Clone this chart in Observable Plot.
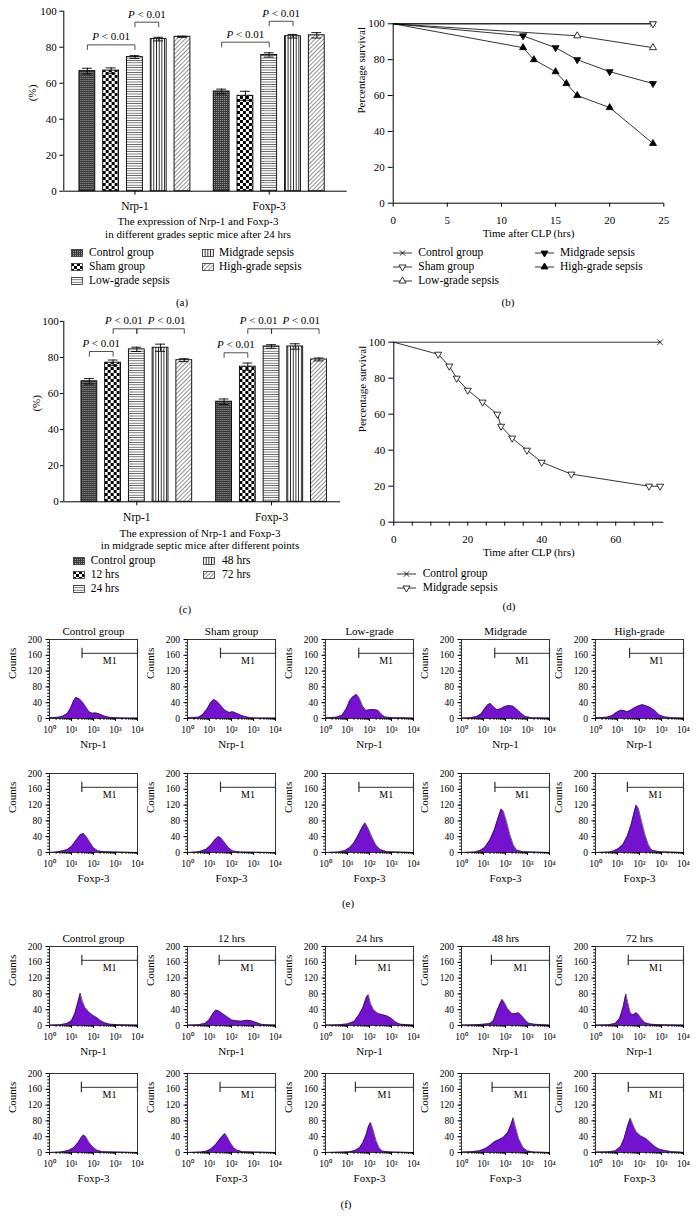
<!DOCTYPE html>
<html><head><meta charset="utf-8">
<script src="https://cdn.jsdelivr.net/npm/d3@7"></script>
<script src="https://cdn.jsdelivr.net/npm/@observablehq/plot@0.6"></script>
<style>
html,body{margin:0;padding:0;background:#fff;}
#fig{position:relative;width:696px;height:1226px;overflow:hidden;font-family:"Liberation Serif","Times New Roman",serif;color:#000;background:#fff;}
#fig svg text{font-weight:400;}
</style></head><body>
<svg width="0" height="0" style="position:absolute">
<defs>
<pattern id="pat0" patternUnits="userSpaceOnUse" width="2" height="2"><rect width="2" height="2" fill="#3a3a3a"/><rect width="1" height="1" fill="#9a9a9a"/></pattern>
<pattern id="pat1" patternUnits="userSpaceOnUse" width="6" height="6"><rect width="6" height="6" fill="#fff"/><rect width="3" height="3" fill="#000"/><rect x="3" y="3" width="3" height="3" fill="#000"/></pattern>
<pattern id="pat2" patternUnits="userSpaceOnUse" width="4" height="2.4"><rect width="4" height="2.4" fill="#fff"/><rect width="4" height="0.8" fill="#555"/></pattern>
<pattern id="pat3" patternUnits="userSpaceOnUse" width="2.7" height="4"><rect width="2.7" height="4" fill="#fff"/><rect width="0.9" height="4" fill="#222"/></pattern>
<pattern id="pat4" patternUnits="userSpaceOnUse" width="3" height="3" patternTransform="rotate(45)"><rect width="3" height="3" fill="#fff"/><rect width="0.8" height="3" fill="#777"/></pattern>
</defs></svg>
<div id="fig"></div>
<script>
// ---------------- DATA ----------------
// (a) bar chart
const aGroups = ["Nrp-1", "Foxp-3"];
const aSeries = ["Control group", "Sham group", "Low-grade sepsis", "Midgrade sepsis", "High-grade sepsis"];
const aNrp1 = [66.7, 67.0, 74.5, 84.5, 85.8];
const aNrp1Err = [1.6, 1.5, 0.8, 1.0, 0.3];
const aFoxp3 = [55.4, 53.0, 75.7, 86.1, 86.6];
const aFoxp3Err = [1.3, 2.5, 1.2, 1.0, 1.5];
const aBracketGroup = ["Nrp-1", "Nrp-1", "Foxp-3", "Foxp-3"];
const aBracketFrom = [0, 2, 0, 2];
const aBracketTo = [2, 3, 2, 3];
const aBracketY = [81.3, 93.9, 82.8, 94.4];
const aBracketLabelDx = [0, 0, 0, 0];
const aCaption = ["The expression of Nrp-1 and Foxp-3", "in different grades septic mice after 24 hrs"];

// (c) bar chart
const cGroups = ["Nrp-1", "Foxp-3"];
const cSeries = ["Control group", "12 hrs", "24 hrs", "48 hrs", "72 hrs"];
const cNrp1 = [66.8, 77.1, 84.5, 85.4, 78.5];
const cNrp1Err = [1.5, 1.5, 1.2, 2.0, 0.8];
const cFoxp3 = [55.5, 74.9, 86.1, 86.1, 78.9];
const cFoxp3Err = [1.5, 2.0, 1.0, 1.5, 0.8];
const cBracketGroup = ["Nrp-1", "Nrp-1", "Nrp-1", "Foxp-3", "Foxp-3", "Foxp-3"];
const cBracketFrom = [0, 1, 2, 0, 1, 2];
const cBracketTo = [1, 2, 4, 1, 2, 4];
const cBracketY = [83.3, 95.9, 95.9, 82.6, 95.9, 95.9];
const cBracketLabelDx = [0, -1, 6, 0, -1, 6];
const cCaption = ["The expression of Nrp-1 and Foxp-3", "in midgrade septic mice after different points"];

const pLabel = "P < 0.01";
const barYTicks = [0, 20, 40, 60, 80, 100];

// (b) survival
const bSeries = ["Control group", "Sham group", "Low-grade sepsis", "Midgrade sepsis", "High-grade sepsis"];
const bControlHrs = [0, 24];
const bControlSurv = [100, 100];
const bShamHrs = [0, 24];
const bShamSurv = [100, 100];
const bLowHrs = [0, 17, 24];
const bLowSurv = [100, 93.3, 86.7];
const bMidHrs = [0, 12, 15, 17, 20, 24];
const bMidSurv = [100, 93.3, 86.7, 80, 73.3, 66.7];
const bHighHrs = [0, 12, 13, 15, 16, 17, 20, 24];
const bHighSurv = [100, 86.7, 80, 73.3, 66.7, 60, 53.3, 33.3];
const bXTicks = [0, 5, 10, 15, 20, 25];

// (d) survival
const dSeries = ["Control group", "Midgrade sepsis"];
const dControlHrs = [0, 72];
const dControlSurv = [100, 100];
const dMidHrs = [0, 12, 15, 17, 20, 24, 28, 29, 32, 36, 40, 48, 69, 72];
const dMidSurv = [100, 93.3, 86.7, 80, 73.3, 66.7, 60, 53.3, 46.7, 40, 33.3, 26.7, 20, 20];
const dXTicks = [0, 20, 40, 60];
const dXMinor = [5, 10, 15, 25, 30, 35, 45, 50, 55, 65, 70];
const survYTicks = [0, 20, 40, 60, 80, 100];

// (e)/(f) flow histograms: [log10 fluorescence, counts]
const eTitles = ["Control group", "Sham group", "Low-grade", "Midgrade", "High-grade"];
const fTitles = ["Control group", "12 hrs", "24 hrs", "48 hrs", "72 hrs"];
const eNrp1Hists = [
  [[0,2],[0.4,3],[0.6,6],[0.8,12],[0.95,25],[1.1,45],[1.2,53],[1.35,50],[1.5,42],[1.65,30],[1.8,17],[1.95,13],[2.1,14],[2.25,12],[2.45,7],[2.7,3],[3.0,2],[3.5,1],[4,1]],
  [[0,2],[0.5,3],[0.7,10],[0.9,25],[1.05,40],[1.2,48],[1.35,43],[1.5,34],[1.7,21],[1.9,15],[2.05,17],[2.2,14],[2.4,9],[2.6,5],[2.85,2],[3.2,1],[4,1]],
  [[0,2],[0.5,3],[0.75,8],[0.95,25],[1.1,45],[1.25,55],[1.42,61],[1.55,50],[1.7,30],[1.85,20],[2.0,22],[2.2,23],[2.4,20],[2.55,10],[2.7,4],[3.0,2],[3.5,2],[4,1]],
  [[0,1],[0.4,2],[0.7,5],[0.9,12],[1.05,25],[1.2,35],[1.32,38],[1.45,30],[1.62,22],[1.8,25],[1.95,30],[2.15,33],[2.35,31],[2.5,24],[2.7,14],[2.9,5],[3.2,2],[4,1]],
  [[0,2],[0.5,3],[0.75,7],[0.95,15],[1.15,21],[1.3,20],[1.45,17],[1.6,21],[1.8,28],[2.0,33],[2.15,35],[2.3,32],[2.5,28],[2.7,20],[2.9,9],[3.15,4],[3.5,2],[4,1]]
];
const eFoxp3Hists = [
  [[0,0],[0.3,1],[0.5,3],[0.8,7],[1.0,15],[1.2,30],[1.4,45],[1.55,48],[1.7,38],[1.85,25],[2.0,12],[2.2,4],[2.5,2],[3.0,1],[4,0]],
  [[0,0],[0.4,1],[0.6,3],[0.85,8],[1.05,18],[1.25,32],[1.4,40],[1.5,38],[1.65,28],[1.85,13],[2.05,4],[2.4,1],[4,0]],
  [[0,0],[0.6,1],[0.9,5],[1.1,12],[1.3,25],[1.5,45],[1.65,62],[1.8,75],[1.95,60],[2.1,40],[2.3,18],[2.5,7],[2.8,2],[3.3,1],[4,0]],
  [[0,0],[0.6,1],[0.85,5],[1.05,12],[1.3,32],[1.5,58],[1.65,85],[1.8,110],[1.9,105],[2.05,78],[2.2,45],[2.35,20],[2.5,6],[2.8,2],[4,0]],
  [[0,0],[0.6,1],[0.8,3],[1.05,10],[1.25,20],[1.45,42],[1.62,70],[1.75,100],[1.85,120],[1.95,112],[2.1,78],[2.25,45],[2.4,20],[2.55,6],[2.9,2],[4,0]]
];
const fNrp1Hists = [
  [[0,1],[0.5,2],[0.8,5],[1.0,12],[1.15,30],[1.3,60],[1.4,82],[1.5,60],[1.62,45],[1.8,33],[2.0,25],[2.15,20],[2.3,13],[2.5,7],[2.75,3],[3.2,2],[4,1]],
  [[0,1],[0.5,2],[0.8,5],[1.0,15],[1.15,30],[1.3,39],[1.45,36],[1.6,30],[1.8,22],[2.0,14],[2.2,12],[2.45,11],[2.7,13],[2.9,12],[3.1,8],[3.35,3],[3.6,2],[4,1]],
  [[0,1],[0.6,2],[1.0,4],[1.3,10],[1.5,25],[1.7,45],[1.85,70],[1.95,78],[2.05,55],[2.2,38],[2.4,30],[2.6,27],[2.8,24],[3.0,18],[3.2,8],[3.4,3],[3.8,2],[4,1]],
  [[0,1],[0.6,2],[1.0,3],[1.3,5],[1.45,12],[1.6,35],[1.75,55],[1.85,66],[1.95,58],[2.1,42],[2.3,30],[2.45,30],[2.6,32],[2.75,24],[2.9,14],[3.05,6],[3.3,3],[4,1]],
  [[0,1],[0.6,2],[0.9,5],[1.1,18],[1.25,45],[1.38,80],[1.48,55],[1.6,30],[1.72,27],[1.85,32],[1.95,28],[2.1,16],[2.25,7],[2.5,3],[3.0,2],[4,1]]
];
const fFoxp3Hists = [
  [[0,0],[0.5,1],[0.7,3],[0.9,6],[1.1,12],[1.3,25],[1.45,38],[1.55,44],[1.65,40],[1.8,25],[1.95,15],[2.15,6],[2.4,2],[3,1],[4,0]],
  [[0,0],[0.6,1],[0.85,3],[1.05,8],[1.25,18],[1.45,32],[1.6,42],[1.7,48],[1.8,40],[1.95,25],[2.1,12],[2.25,6],[2.5,2],[3,1],[4,0]],
  [[0,0],[0.8,1],[1.1,2],[1.35,5],[1.55,12],[1.7,25],[1.85,45],[1.95,65],[2.05,76],[2.15,60],[2.3,30],[2.45,10],[2.6,3],[3,1],[4,0]],
  [[0,1],[0.4,2],[0.8,4],[1.1,10],[1.3,18],[1.5,27],[1.7,32],[1.9,38],[2.1,50],[2.25,70],[2.35,88],[2.45,65],[2.6,35],[2.8,12],[3.0,4],[3.3,1],[4,0]],
  [[0,1],[0.6,2],[0.9,4],[1.15,15],[1.3,35],[1.45,65],[1.58,87],[1.7,70],[1.85,52],[2.05,42],[2.3,35],[2.5,25],[2.7,15],[2.9,8],[3.15,5],[3.45,2],[3.8,1],[4,0]]
];
const eNrp1Gates = [1.48, 1.5, 1.51, 1.51, 1.55];
const eFoxp3Gates = [1.47, 1.5, 1.52, 1.52, 1.45];
const fNrp1Gates = [1.47, 1.44, 1.37, 1.36, 1.49];
const fFoxp3Gates = [1.45, 1.48, 1.36, 1.39, 1.49];
const gateLabel = "M1";
const histYTicks = [0, 40, 80, 120, 160, 200];
const histXTicks = [1, 10, 100, 1000, 10000];

// ---------------- HELPERS ----------------
const FONT = '"Liberation Serif","Times New Roman",serif';
const PURPLE = "#7412cf";
const fig = document.getElementById("fig");
const baseStyle = {fontFamily: FONT, fontSize: "11px", fontWeight: "400", background: "transparent", overflow: "visible", color: "black"};

function put(node, left, top) {
  node.style.position = "absolute";
  node.style.left = left + "px";
  node.style.top = top + "px";
  fig.appendChild(node);
  return node;
}
function htmlText(text, x, y, size = 11, center = true) {
  const d = document.createElement("div");
  d.textContent = text;
  d.style.cssText = `position:absolute;left:${x}px;top:${y}px;font-size:${size}px;line-height:1;white-space:nowrap;transform:translate(${center ? "-50%" : "0"},-50%);`;
  fig.appendChild(d);
}
function italicP(svg) {
  svg.querySelectorAll("text").forEach(t => {
    if (t.textContent === pLabel) {
      t.textContent = "";
      const ts = document.createElementNS("http://www.w3.org/2000/svg", "tspan");
      ts.setAttribute("font-style", "italic");
      ts.textContent = "P";
      t.appendChild(ts);
      t.appendChild(document.createTextNode(" < 0.01"));
    }
  });
}
const NS = "http://www.w3.org/2000/svg";
function swatch(i, x, y) {
  const s = document.createElementNS(NS, "svg");
  s.setAttribute("width", 12); s.setAttribute("height", 8);
  s.innerHTML = `<rect x="0.5" y="0.5" width="11" height="7" fill="url(#pat${i})" stroke="#333" stroke-width="0.8"/>`;
  s.style.position = "absolute"; s.style.left = x + "px"; s.style.top = (y - 4) + "px";
  fig.appendChild(s);
}
function lineSwatch(st, x, y) {
  const s = document.createElementNS(NS, "svg");
  s.setAttribute("width", 20); s.setAttribute("height", 10);
  const sym = st.symbol === "times" ? d3.symbolTimes : d3.symbolTriangle;
  const p = d3.symbol(sym, Math.PI * 2.6 * 2.6)();
  s.innerHTML = `<line x1="0" x2="19" y1="5" y2="5" stroke="black" stroke-width="0.8"/>` +
    `<path d="${p}" transform="translate(9.5,5) rotate(${st.rotate})" fill="${st.fill}" stroke="black" stroke-width="0.8"/>`;
  s.style.position = "absolute"; s.style.left = x + "px"; s.style.top = (y - 5) + "px";
  fig.appendChild(s);
}

// ---------------- BAR PANELS ----------------
function barPanel(cfg) {
  const {left, top, width, height, mt, mr, mb, ml, groups, series, values, errs,
         brGroup, brFrom, brTo, brY, brDx, fx, step, yTickSize, yTickPad, fxPad, ylabDx} = cfg;
  const rows = groups.flatMap((g, gi) => series.map((s, si) => ({group: g, series: s, value: values[gi][si], err: errs[gi][si]})));
  const br = brGroup.map((g, i) => {
    const mid = (brFrom[i] + brTo[i]) / 2;
    return {group: g, x1: series[brFrom[i]], x2: series[brTo[i]], y: brY[i], at: series[Math.floor(mid)],
            half: mid % 1 !== 0, dx: brDx[i]};
  });
  const LEG = 2.8;
  const common = {width, height, marginTop: mt, marginRight: mr, marginBottom: mb, marginLeft: ml, style: baseStyle};
  const frame = Plot.plot({...common,
    x: {domain: [0, 1], axis: null}, y: {domain: [0, 100]},
    marks: [
      Plot.ruleY([0], {stroke: "black", strokeWidth: 1}),
      Plot.ruleX([0], {y1: 0, y2: 100, stroke: "black", strokeWidth: 1}),
      Plot.axisY({ticks: barYTicks, tickSize: yTickSize, tickPadding: yTickPad, label: null}),
      Plot.text(["(%)"], {text: d => d, frameAnchor: "left", dx: ylabDx, rotate: -90, fontSize: 11})
    ]});
  const labelMarks = [];
  for (const d of br) {
    labelMarks.push(Plot.text([d], {fx: "group", x: "at", y: "y", text: () => pLabel,
      dx: (d.half ? step / 2 : 0) + d.dx, dy: -8, fontSize: 11}));
  }
  const bars = Plot.plot({...common,
    x: {domain: series, paddingInner: 0.333, paddingOuter: 0, round: false, axis: null},
    y: {domain: [0, 100], axis: null},
    fx: {domain: groups, round: false, ...fx},
    color: {domain: series, range: series.map((_, i) => `url(#pat${i})`)},
    marks: [
      Plot.barY(rows, {fx: "group", x: "series", y: "value", fill: "series", stroke: "black", strokeWidth: 0.9}),
      Plot.ruleX(rows, {fx: "group", x: "series", y1: d => d.value - d.err, y2: d => d.value + d.err, stroke: "black", strokeWidth: 0.9}),
      Plot.tickY(rows, {fx: "group", x: "series", y: d => d.value + d.err, insetLeft: 3, insetRight: 3, stroke: "black", strokeWidth: 0.9}),
      Plot.tickY(rows, {fx: "group", x: "series", y: d => d.value - d.err, insetLeft: 3, insetRight: 3, stroke: "black", strokeWidth: 0.9}),
      Plot.link(br, {fx: "group", x1: "x1", x2: "x2", y1: "y", y2: "y", stroke: "#222", strokeWidth: 0.8}),
      Plot.link(br, {fx: "group", x1: "x1", x2: "x1", y1: "y", y2: d => d.y - LEG, stroke: "#222", strokeWidth: 0.8}),
      Plot.link(br, {fx: "group", x1: "x2", x2: "x2", y1: "y", y2: d => d.y - LEG, stroke: "#222", strokeWidth: 0.8}),
      ...labelMarks,
      Plot.axisFx({anchor: "bottom", tickSize: 4, tickPadding: fxPad, label: null, fontSize: 11.5})
    ]});
  italicP(bars);
  put(frame, left, top);
  put(bars, left, top);
}

barPanel({left: 0, top: 0, width: 360, height: 230, mt: 10.7, mr: 13.3, mb: 39.3, ml: 63.3,
  groups: aGroups, series: aSeries, values: [aNrp1, aFoxp3], errs: [aNrp1Err, aFoxp3Err],
  brGroup: aBracketGroup, brFrom: aBracketFrom, brTo: aBracketTo, brY: aBracketY, brDx: aBracketLabelDx,
  fx: {paddingInner: 0.1735, paddingOuter: 0.142, align: 0.41}, step: 23.8,
  yTickSize: 4, yTickPad: 3, fxPad: 7, ylabDx: -31});
htmlText(aCaption[0], 198, 221);
htmlText(aCaption[1], 198, 234);
{
  const rowsY = [253, 267, 281], sx = [71, 202], tx = [89, 219];
  aSeries.forEach((s, i) => {
    const c = i < 3 ? 0 : 1, r = i < 3 ? i : i - 3;
    swatch(i, sx[c], rowsY[r]);
    htmlText(s, tx[c], rowsY[r], 11.5, false);
  });
}
htmlText("(a)", 182, 302);

barPanel({left: 0, top: 310, width: 360, height: 230, mt: 10.9, mr: 20, mb: 38.7, ml: 63.3,
  groups: cGroups, series: cSeries, values: [cNrp1, cFoxp3], errs: [cNrp1Err, cFoxp3Err],
  brGroup: cBracketGroup, brFrom: cBracketFrom, brTo: cBracketTo, brY: cBracketY, brDx: cBracketLabelDx,
  fx: {paddingInner: 0.178, paddingOuter: 0.116, align: 0.565}, step: 23.7,
  yTickSize: 3.5, yTickPad: 1.5, fxPad: 7, ylabDx: -27});
htmlText(cCaption[0], 200, 532.7);
htmlText(cCaption[1], 200, 545);
{
  const rowsY = [561, 575, 589], sx = [72.7, 203], tx = [90.7, 222];
  cSeries.forEach((s, i) => {
    const c = i < 3 ? 0 : 1, r = i < 3 ? i : i - 3;
    swatch(i, sx[c], rowsY[r]);
    htmlText(s, tx[c], rowsY[r], 11.5, false);
  });
}
htmlText("(c)", 185, 609);

// ---------------- SURVIVAL PANELS ----------------
const survStyles = {
  "Control group": {symbol: "times", rotate: 0, fill: "none"},
  "Sham group": {symbol: "triangle", rotate: 180, fill: "white"},
  "Low-grade sepsis": {symbol: "triangle", rotate: 0, fill: "white"},
  "Midgrade sepsis": {symbol: "triangle", rotate: 180, fill: "black"},
  "High-grade sepsis": {symbol: "triangle", rotate: 0, fill: "black"}
};
const dStyles = {
  "Control group": {symbol: "times", rotate: 0, fill: "none"},
  "Midgrade sepsis": {symbol: "triangle", rotate: 180, fill: "white"}
};
function survPanel({left, top, width, height, mt, mr, mb, ml, series, hrs, surv, styles, xDomain, xTicks, xMinor}) {
  const rows = series.flatMap((s, i) => hrs[i].map((t, j) => ({series: s, t, v: surv[i][j]})));
  const svg = Plot.plot({width, height, marginTop: mt, marginRight: mr, marginBottom: mb, marginLeft: ml, style: baseStyle,
    x: {domain: xDomain}, y: {domain: [0, 100]},
    marks: [
      Plot.ruleY([0], {stroke: "black", strokeWidth: 1}),
      Plot.ruleX([0], {stroke: "black", strokeWidth: 1}),
      Plot.line(rows, {x: "t", y: "v", z: "series", stroke: "black", strokeWidth: 0.8}),
      ...series.map(s => Plot.dot(rows.filter(d => d.series === s && d.t > 0), {
        x: "t", y: "v", symbol: styles[s].symbol, rotate: styles[s].rotate, fill: styles[s].fill,
        stroke: "black", strokeWidth: 0.8, r: 2.6})),
      Plot.axisY({ticks: survYTicks, tickSize: 5, tickPadding: 3.5, label: null}),
      Plot.axisX({ticks: xTicks, tickSize: 4, tickPadding: 9, label: null}),
      xMinor ? Plot.axisX({ticks: xMinor, tickSize: 4, tickFormat: () => "", label: null}) : null,
      Plot.text(["Percentage survival"], {text: d => d, frameAnchor: "left", dx: -31.5, rotate: -90, fontSize: 11}),
      Plot.text(["Time after CLP (hrs)"], {text: d => d, frameAnchor: "bottom", dy: 33.3, fontSize: 11})
    ].filter(Boolean)});
  put(svg, left, top);
}
survPanel({left: 350, top: 0, width: 346, height: 250, mt: 23.3, mr: 32.7, mb: 47.3, ml: 42.7,
  series: bSeries, hrs: [bControlHrs, bShamHrs, bLowHrs, bMidHrs, bHighHrs],
  surv: [bControlSurv, bShamSurv, bLowSurv, bMidSurv, bHighSurv], styles: survStyles,
  xDomain: [0, 25], xTicks: bXTicks});
{
  const rowsY = [253.3, 267.3, 281.3], sx = [392.7, 535], tx = [418.3, 560];
  bSeries.forEach((s, i) => {
    const c = i < 3 ? 0 : 1, r = i < 3 ? i : i - 3;
    lineSwatch(survStyles[s], sx[c], rowsY[r]);
    htmlText(s, tx[c], rowsY[r], 11.5, false);
  });
}
htmlText("(b)", 508, 302);

survPanel({left: 350, top: 330, width: 346, height: 250, mt: 11.7, mr: 32.7, mb: 58.3, ml: 43.3,
  series: dSeries, hrs: [dControlHrs, dMidHrs], surv: [dControlSurv, dMidSurv], styles: dStyles,
  xDomain: [0, 73], xTicks: dXTicks, xMinor: dXMinor});
{
  const rowsY = [574.3, 587.7];
  dSeries.forEach((s, i) => {
    lineSwatch(dStyles[s], 396.7, rowsY[i]);
    htmlText(s, 422.7, rowsY[i], 11.5, false);
  });
}
htmlText("(d)", 509, 606);

// ---------------- FLOW HISTOGRAMS ----------------
const SUP = ["\u2070", "\u00B9", "\u00B2", "\u00B3", "\u2074"];
const histXMinor = [1, 10, 100, 1000].flatMap(k => [2, 3, 4, 5, 6, 7, 8, 9].map(m => m * k));
const histYMinor = d3.range(0, 201, 8);
const colLefts = [49, 187, 325, 461, 595];
const FRAME_H = 79, MT = 18, MB = 38, ML = 42, MR = 8, FRAME_W = 88;
const GATE_Y = 165;
function hist({pts, gate, title, xlab, frameLeft, frameTop}) {
  const data = pts.map(([lx, c]) => ({x: 10 ** lx, c}));
  const g = 10 ** gate;
  const svg = Plot.plot({
    width: ML + FRAME_W + MR, height: MT + FRAME_H + MB,
    marginTop: MT, marginLeft: ML, marginRight: MR, marginBottom: MB,
    style: {...baseStyle, fontSize: "9.5px"},
    x: {type: "log", domain: [1, 10000]}, y: {domain: [0, 200]},
    marks: [
      Plot.areaY(data, {x: "x", y: "c", fill: PURPLE}),
      Plot.lineY(data, {x: "x", y: "c", stroke: "#1a1a1a", strokeWidth: 0.6}),
      Plot.frame({stroke: "#222", strokeWidth: 0.9}),
      Plot.axisY({ticks: histYTicks, tickSize: 3.5, tickPadding: 4, label: null}),
      Plot.axisY({ticks: histYMinor, tickSize: 1.8, tickFormat: () => "", label: null}),
      Plot.axisX({ticks: histXTicks, tickSize: 3, tickPadding: 5, tickFormat: d => "10" + SUP[Math.round(Math.log10(d))], label: null}),
      Plot.axisX({ticks: histXMinor, tickSize: 1.8, tickFormat: () => "", label: null}),
      Plot.ruleY([GATE_Y], {x1: g, x2: 10000, stroke: "#333", strokeWidth: 1}),
      Plot.ruleX([g, 10000], {y1: GATE_Y - 13, y2: GATE_Y + 13, stroke: "#333", strokeWidth: 1.2}),
      Plot.text([gateLabel], {text: d => d, x: Math.sqrt(g * 10000), y: GATE_Y - 20, fontSize: 10}),
      title ? Plot.text([title], {text: d => d, frameAnchor: "top", dy: -12, fontSize: 11}) : null,
      Plot.text(["Counts"], {text: d => d, frameAnchor: "left", dx: -37, rotate: -90, fontSize: 11}),
      Plot.text([xlab], {text: d => d, frameAnchor: "bottom", dy: 29, fontSize: 11})
    ].filter(Boolean)
  });
  put(svg, frameLeft - ML, frameTop - MT);
}
const histRows = [
  {hists: eNrp1Hists, gates: eNrp1Gates, titles: eTitles, xlab: "Nrp-1", top: 639},
  {hists: eFoxp3Hists, gates: eFoxp3Gates, titles: null, xlab: "Foxp-3", top: 773},
  {hists: fNrp1Hists, gates: fNrp1Gates, titles: fTitles, xlab: "Nrp-1", top: 945.5},
  {hists: fFoxp3Hists, gates: fFoxp3Gates, titles: null, xlab: "Foxp-3", top: 1073}
];
histRows.forEach(row => row.hists.forEach((pts, i) => hist({
  pts, gate: row.gates[i], title: row.titles ? row.titles[i] : null, xlab: row.xlab,
  frameLeft: colLefts[i], frameTop: row.top})));
htmlText("(e)", 348, 903);
htmlText("(f)", 346, 1204);
</script></body></html>
